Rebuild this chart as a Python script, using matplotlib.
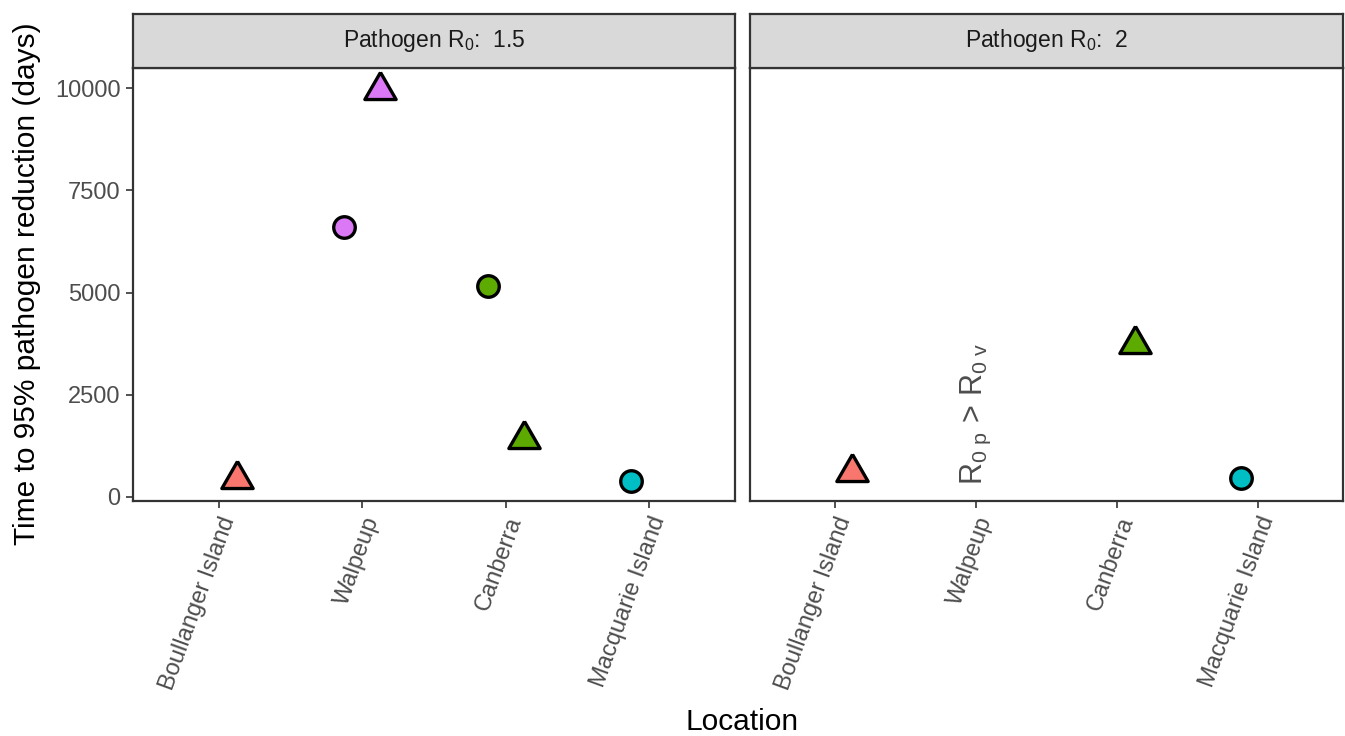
import numpy as np
import matplotlib
matplotlib.use('Agg')
import matplotlib.pyplot as plt

plt.rcParams['font.family'] = ['Liberation Sans', 'DejaVu Sans']
plt.rcParams['mathtext.fontset'] = 'custom'
plt.rcParams['mathtext.rm'] = 'Liberation Sans'
plt.rcParams['mathtext.it'] = 'Liberation Sans:italic'

locations = ['Boullanger Island', 'Walpeup', 'Canberra', 'Macquarie Island']
loc_colors = ['#F8766D', '#DB78F6', '#5DAA00', '#00BFC4']
pathogen_r0 = ['1.5', '2']

# time to 95% pathogen reduction (days), NaN = not shown
circle_vals = [
    [np.nan, 6610, 5170, 383],
    [np.nan, np.nan, np.nan, 457],
]
triangle_vals = [
    [440, 9966, 1430, np.nan],
    [611, np.nan, 3737, np.nan],
]

# ggplot-like triangle centred on its centroid
tri = [(0, 1.555), (1.347, -0.778), (-1.347, -0.778), (0, 1.555)]

fig = plt.figure(figsize=(13.45, 7.36), dpi=100)
W, H = 1345, 736
panels = [(133, 735), (750, 1343)]
top, bot = 68, 501
strip_top = 14
dark = '#333333'
grey_txt = '#4D4D4D'

axes = []
for i, (x0, x1) in enumerate(panels):
    ax = fig.add_axes([x0 / W, 1 - bot / H, (x1 - x0) / W, (bot - top) / H])
    axes.append(ax)
    xs = np.arange(len(locations))
    for j in range(len(locations)):
        if not np.isnan(circle_vals[i][j]):
            ax.plot(xs[j] - 0.125, circle_vals[i][j], 'o', ms=15.5,
                    mfc=loc_colors[j], mec='black', mew=2.4, clip_on=False)
        if not np.isnan(triangle_vals[i][j]):
            ax.plot(xs[j] + 0.125, triangle_vals[i][j], marker=tri, ms=26,
                    mfc=loc_colors[j], mec='black', mew=2.4, ls='none',
                    clip_on=False)
    ax.set_xlim(-0.6, 3.6)
    ax.set_ylim(-98, 10496)
    ax.set_xticks(xs)
    ax.set_xticklabels(locations, rotation=70, ha='right', va='top',
                       rotation_mode='anchor', fontsize=17.5, color=grey_txt)
    ax.set_yticks([0, 2500, 5000, 7500, 10000])
    ax.tick_params(length=5, width=1.2, color=dark, labelsize=17,
                   labelcolor=grey_txt, pad=4)
    for s in ax.spines.values():
        s.set_color(dark)
        s.set_linewidth(1.6)
    if i > 0:
        ax.tick_params(axis='y', left=False, labelleft=False)
    # facet strip
    sax = fig.add_axes([x0 / W, 1 - top / H, (x1 - x0) / W, (top - strip_top) / H])
    sax.set_xticks([])
    sax.set_yticks([])
    sax.set_facecolor('#D9D9D9')
    for s in sax.spines.values():
        s.set_color(dark)
        s.set_linewidth(1.6)
    sax.text(0.5, 0.5, 'Pathogen R$_0$:  ' + pathogen_r0[i], ha='center',
             va='center', fontsize=16.5, color='#1A1A1A', transform=sax.transAxes)

axes[1].text(1, 290, r'$\mathregular{R_{0\ p}\,>\,R_{0\ v}}$', rotation=90,
             ha='center', va='bottom', fontsize=22, color=grey_txt)

fig.text(27 / W, 1 - 284 / H, 'Time to 95% pathogen reduction (days)',
         rotation=90, ha='center', va='center', fontsize=21.5)
fig.text(742 / W, 1 - 722 / H, 'Location', ha='center', va='center', fontsize=21.5)

fig.savefig('out.png', dpi=100)
